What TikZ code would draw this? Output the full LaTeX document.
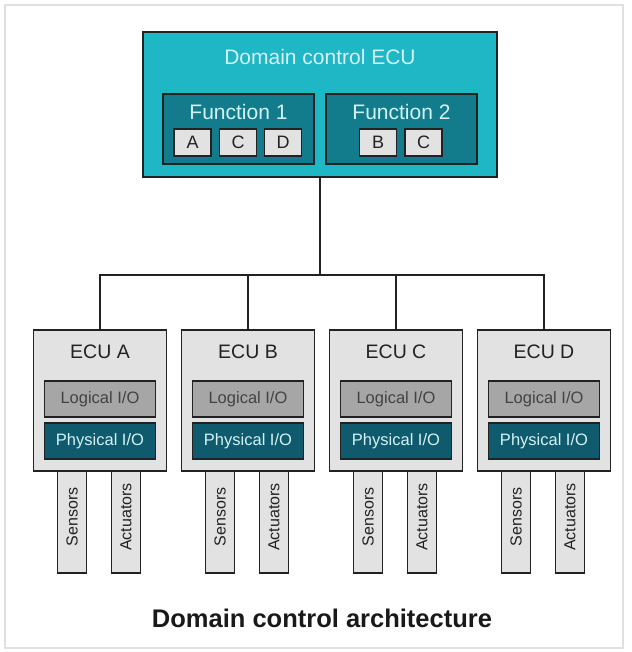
\documentclass[tikz,border=0pt]{standalone}
\usepackage{fontspec}
\setmainfont{Liberation Sans}
\definecolor{topc}{HTML}{1FB6C6}
\definecolor{func}{HTML}{137C8C}
\definecolor{phys}{HTML}{0F5A6C}
\definecolor{ltxt}{HTML}{D4F2F5}
\definecolor{ecubg}{HTML}{E2E2E2}
\definecolor{logc}{HTML}{A6A6A6}
\definecolor{bord}{HTML}{222222}
\begin{document}
\begin{tikzpicture}[x=1pt,y=-1pt,
  box/.style={draw=bord,line width=1.8pt,rectangle,inner sep=0pt},
  lbl/.style={font=\fontsize{21}{21}\selectfont,text=ltxt},
  letter/.style={box,fill=ecubg,minimum width=37pt,minimum height=27pt,font=\fontsize{18}{18}\selectfont,text=bord},
  conn/.style={draw=bord,line width=2pt}]
\useasboundingbox (0,0) rectangle (631,652);
\draw[draw=black!12,line width=1.5pt] (5,5) rectangle (623,648);
% top box
\node[box,fill=topc,minimum width=354pt,minimum height=145pt] (top) at (320,104.5) {};
\node[lbl] (toplbl) at (320,57) {Domain control ECU};
\node[box,fill=func,minimum width=151pt,minimum height=70pt] (f1) at (238.5,129) {};
\node[box,fill=func,minimum width=151pt,minimum height=70pt] (f2) at (401.5,129) {};
\node[lbl] (f1l) at (238.5,112) {Function 1};
\node[lbl] (f2l) at (401.5,112) {Function 2};
\node[letter] (fa) at (192.5,142.5) {A};
\node[letter] (fc) at (238,142.5) {C};
\node[letter] (fd) at (283,142.5) {D};
\node[letter] (fb) at (378,142.5) {B};
\node[letter] (fc2) at (423.5,142.5) {C};
% bus
\coordinate (bus) at (320,275);
\foreach \n/\x/\l in {a/100/A,b/248/B,c/396/C,d/544/D}{
  \node[box,fill=ecubg,minimum width=133pt,minimum height=141pt] (ecu\n) at (\x,400.5) {};
  \node[font=\fontsize{19.5}{19.5}\selectfont,text=bord] (ecul\n) at (\x,352) {ECU \l};
  \node[box,fill=logc,minimum width=111pt,minimum height=36pt,font=\fontsize{16.5}{16.5}\selectfont,text=bord!85] (log\n) at (\x,399) {Logical I/O};
  \node[box,fill=phys,minimum width=111pt,minimum height=36pt,font=\fontsize{16.5}{16.5}\selectfont,text=ltxt] (phy\n) at (\x,441) {Physical I/O};
  \node[box,fill=ecubg,minimum width=29pt,minimum height=102pt] (sen\n) at (\x-28,522) {};
  \node[rotate=90,font=\fontsize{16}{16}\selectfont,text=bord] (senl\n) at (\x-28,517) {Sensors};
  \node[box,fill=ecubg,minimum width=29pt,minimum height=102pt] (act\n) at (\x+26,522) {};
  \node[rotate=90,font=\fontsize{16}{16}\selectfont,text=bord] (actl\n) at (\x+26,517) {Actuators};
}
\draw[conn] (top.south) -- (bus);
\draw[conn] (ecua.north) |- (bus) -| (ecud.north);
\draw[conn] (ecub.north) -- (ecub.north |- bus);
\draw[conn] (ecuc.north) -- (ecuc.north |- bus);
\node[font=\fontsize{25.5}{25.5}\bfseries\selectfont,text=black!90] (title) at (322,618) {Domain control architecture};
\end{tikzpicture}
\end{document}
